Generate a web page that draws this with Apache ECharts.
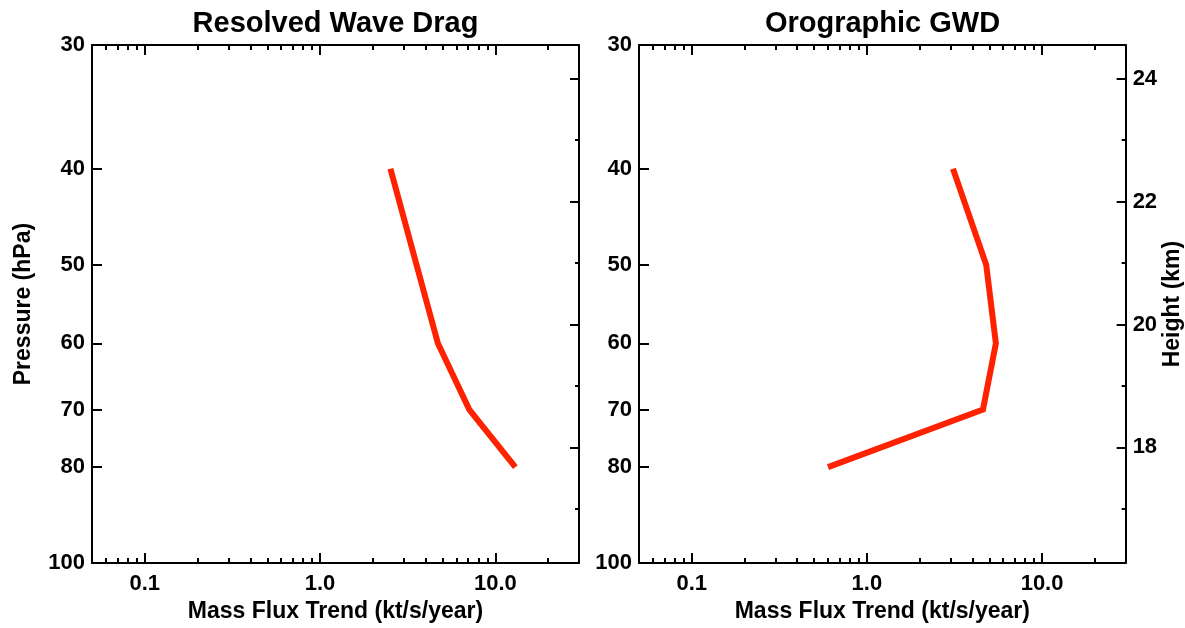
<!DOCTYPE html>
<html><head><meta charset="utf-8">
<script src="https://cdn.jsdelivr.net/npm/echarts@6/dist/echarts.min.js"></script>
<style>html,body{margin:0;padding:0;background:#fff}#c{width:1185px;height:628px}</style>
</head><body><div id="c"></div>
<script>
// ---- data ----
const pressureLevels = [40, 50, 60, 70, 80];            // hPa
const resolvedTrend = [2.52, 3.55, 4.7, 7.1, 13.0];      // kt/s/year
const orographicTrend = [3.1, 4.8, 5.45, 4.6, 0.6];      // kt/s/year
const panelTitles = ['Resolved Wave Drag', 'Orographic GWD'];
const xMajorTicks = [0.1, 1, 10];
const xMinorTicks = [0.06, 0.07, 0.08, 0.09, 0.2, 0.3, 0.4, 0.5, 0.6, 0.7, 0.8, 0.9, 2, 3, 4, 5, 6, 7, 8, 9, 20];
const pressureTicks = [30, 40, 50, 60, 70, 80, 100];
const heightMajorTicks = [18, 20, 22, 24];
const heightMinorTicks = [17, 19, 21, 23];
const X_MIN = 0.05, X_MAX = 30;
const P_TOP = 30, P_BOTTOM = 100;
const SCALE_HEIGHT = 7, P_REF = 1000;   // z = H ln(P_REF / p)

const FONT = '"Liberation Sans", Arial, Helvetica, sans-serif';
const BLACK = '#000';
const LINE_COLOR = '#ff2200';

const grids = [
  { left: 92, top: 45, width: 487, height: 523 },
  { left: 639, top: 45, width: 487, height: 523 }
];

const labelStyle = { color: BLACK, fontFamily: FONT, fontWeight: 'bold', fontSize: 22 };
const nameStyle = { color: BLACK, fontFamily: FONT, fontWeight: 'bold', fontSize: 23 };

const xAxes = [], yAxes = [];
grids.forEach((g, i) => {
  const base = { gridIndex: i, type: 'log', logBase: 10, min: X_MIN, max: X_MAX, splitLine: { show: false } };
  const tickLine = { color: BLACK, width: 2 };
  // bottom major
  xAxes.push(Object.assign({}, base, {
    position: 'bottom',
    axisLine: { show: true, lineStyle: { color: BLACK, width: 2 } },
    axisTick: { show: true, inside: true, length: 10, lineStyle: tickLine, customValues: xMajorTicks },
    axisLabel: { show: true, margin: 10, customValues: xMajorTicks, formatter: v => Number(v).toFixed(1), ...labelStyle },
    name: 'Mass Flux Trend (kt/s/year)', nameLocation: 'middle', nameGap: 33, nameTextStyle: nameStyle
  }));
  // bottom minor
  xAxes.push(Object.assign({}, base, {
    position: 'bottom',
    axisLine: { show: false },
    axisTick: { show: true, inside: true, length: 5, lineStyle: tickLine, customValues: xMinorTicks },
    axisLabel: { show: false }
  }));
  // top major
  xAxes.push(Object.assign({}, base, {
    position: 'top',
    axisLine: { show: true, lineStyle: { color: BLACK, width: 2 } },
    axisTick: { show: true, inside: true, length: 10, lineStyle: tickLine, customValues: xMajorTicks },
    axisLabel: { show: false }
  }));
  // top minor
  xAxes.push(Object.assign({}, base, {
    position: 'top',
    axisLine: { show: false },
    axisTick: { show: true, inside: true, length: 5, lineStyle: tickLine, customValues: xMinorTicks },
    axisLabel: { show: false }
  }));

  // pressure (left)
  yAxes.push({
    gridIndex: i, type: 'log', logBase: 10, inverse: true, min: P_TOP, max: P_BOTTOM, position: 'left',
    splitLine: { show: false },
    axisLine: { show: true, lineStyle: { color: BLACK, width: 2 } },
    axisTick: { show: true, inside: true, length: 10, lineStyle: tickLine, customValues: pressureTicks },
    axisLabel: { show: true, margin: 7, customValues: pressureTicks, formatter: v => String(Math.round(v)), ...labelStyle },
    name: i === 0 ? 'Pressure (hPa)' : '', nameLocation: 'middle', nameGap: 57, nameRotate: 90, nameTextStyle: nameStyle
  });
  // height (right) major
  yAxes.push({
    gridIndex: i, type: 'value', position: 'right',
    min: SCALE_HEIGHT * Math.log(P_REF / P_BOTTOM), max: SCALE_HEIGHT * Math.log(P_REF / P_TOP),
    splitLine: { show: false },
    axisLine: { show: true, lineStyle: { color: BLACK, width: 2 } },
    axisTick: { show: true, inside: true, length: 9, lineStyle: tickLine, customValues: heightMajorTicks },
    axisLabel: { show: i === 1, margin: 7, customValues: heightMajorTicks, formatter: v => String(Math.round(v)), ...labelStyle },
    name: i === 1 ? 'Height (km)' : '', nameLocation: 'middle', nameGap: 34, nameRotate: 90, nameTextStyle: nameStyle
  });
  // height minor
  yAxes.push({
    gridIndex: i, type: 'value', position: 'right',
    min: SCALE_HEIGHT * Math.log(P_REF / P_BOTTOM), max: SCALE_HEIGHT * Math.log(P_REF / P_TOP),
    splitLine: { show: false },
    axisLine: { show: false },
    axisTick: { show: true, inside: true, length: 4, lineStyle: tickLine, customValues: heightMinorTicks },
    axisLabel: { show: false }
  });
});

const seriesData = [resolvedTrend, orographicTrend];
const series = seriesData.map((vals, i) => ({
  type: 'line',
  xAxisIndex: i * 4,
  yAxisIndex: i * 3,
  data: vals.map((v, k) => [v, pressureLevels[k]]),
  showSymbol: false,
  symbol: 'none',
  lineStyle: { color: LINE_COLOR, width: 6, join: 'miter' },
  animation: false,
  z: 1
}));

const graphic = panelTitles.map((t, i) => ({
  type: 'text',
  x: grids[i].left + grids[i].width / 2,
  y: 9,
  style: { text: t, fill: BLACK, font: 'bold 29px ' + FONT, align: 'center', verticalAlign: 'top' }
}));

const chart = echarts.init(document.getElementById('c'), null, { renderer: 'canvas' });
chart.setOption({
  backgroundColor: '#fff',
  animation: false,
  grid: grids,
  xAxis: xAxes,
  yAxis: yAxes,
  series: series,
  graphic: graphic
});
</script>
</body></html>
